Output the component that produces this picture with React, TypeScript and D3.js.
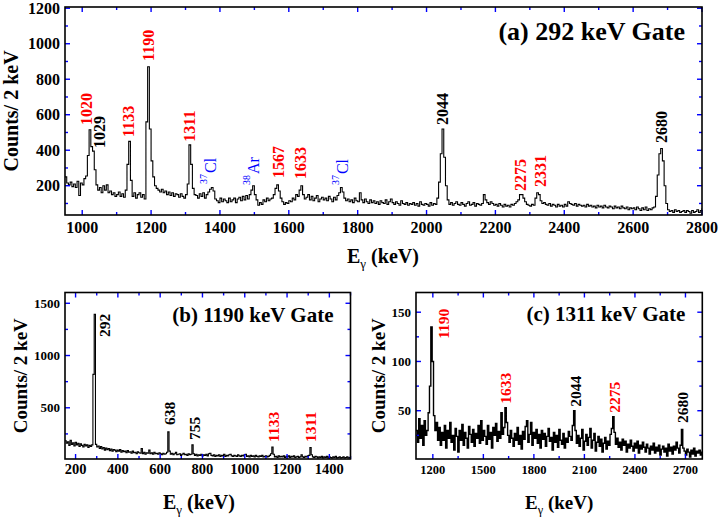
import * as d3 from 'd3';

const FONT = '"Liberation Serif", "Times New Roman", Times, serif';
const BLUE = '#0000ff';
const RED = '#ff0000';
const BLACK = '#000000';

// (a) spectrum gated on 292 keV, 5 keV bins starting at 950 keV
const gate292Start = 950;
const gate292Bin = 5;
const gate292Counts = [
  250, 215, 205, 220, 195, 210, 190, 225, 145, 215,
  205, 240, 255, 370, 515, 420, 395, 290, 205, 175,
  190, 160, 200, 175, 205, 160, 170, 150, 160, 140,
  150, 165, 140, 155, 135, 175, 320, 450, 230, 140,
  160, 130, 150, 160, 135, 150, 125, 560, 870, 520,
  340, 250, 200, 185, 175, 165, 180, 160, 170, 150,
  165, 145, 160, 140, 155, 150, 135, 155, 140, 130,
  150, 210, 430, 320, 185, 150, 145, 130, 155, 140,
  160, 130, 150, 165, 180, 190, 170, 125, 115, 105,
  130, 110, 125, 115, 105, 130, 110, 120, 130, 105,
  125, 135, 115, 140, 120, 145, 125, 150, 175, 200,
  150, 120, 90, 105, 95, 120, 110, 130, 115, 125,
  130, 150, 185, 205, 170, 130, 110, 95, 105, 100,
  115, 110, 130, 120, 150, 140, 175, 200, 150, 125,
  135, 150, 120, 140, 115, 130, 145, 110, 125, 135,
  120, 130, 115, 140, 125, 110, 135, 120, 145, 160,
  190, 165, 130, 115, 125, 110, 120, 105, 130, 115,
  110, 160, 120, 105, 125, 110, 100, 120, 105, 115,
  100, 110, 95, 115, 105, 100, 120, 95, 110, 125,
  105, 95, 110, 100, 90, 115, 100, 95, 105, 90,
  100, 95, 105, 90, 100, 85, 110, 95, 90, 100,
  95, 85, 105, 90, 100, 95, 130, 220, 380, 520,
  360, 200, 120, 95, 105, 90, 100, 110, 95, 90,
  105, 95, 85, 100, 110, 90, 95, 105, 85, 100,
  95, 90, 100, 150, 120, 105, 95, 110, 100, 90,
  95, 85, 100, 90, 80, 95, 85, 90, 80, 95,
  90, 100, 110, 120, 150, 150, 130, 110, 95, 90,
  85, 95, 90, 130, 160, 150, 115, 100, 105, 95,
  90, 100, 85, 95, 90, 80, 95, 85, 90, 80,
  95, 85, 110, 100, 95, 90, 100, 85, 95, 90,
  85, 90, 80, 95, 85, 90, 80, 85, 75, 90,
  80, 85, 75, 90, 80, 75, 85, 80, 70, 85,
  75, 80, 70, 85, 75, 70, 80, 65, 75, 70,
  75, 65, 80, 70, 60, 75, 65, 80, 60, 70,
  65, 75, 80, 140, 260, 380, 410, 340, 200, 100,
  65, 55, 60, 50, 65, 55, 60, 50, 55, 60,
  50, 60, 55, 45, 60, 50, 55, 65, 50, 60,
  70,
];

// (b) gated on 1190 keV, 6 keV bins starting at 150 keV
const gate1190Start = 150;
const gate1190Bin = 6;
const gate1190Counts = [
  185, 160, 175, 140, 190, 150, 165, 135, 170, 145,
  160, 130, 155, 140, 125, 150, 135, 145, 120, 140,
  130, 145, 820, 1395, 150, 125, 135, 110, 130, 105,
  120, 95, 115, 100, 110, 90, 105, 85, 100, 95,
  80, 95, 85, 100, 75, 90, 80, 85, 70, 90,
  75, 80, 65, 85, 70, 75, 60, 80, 70, 65,
  110, 60, 75, 55, 70, 65, 95, 60, 70, 55,
  75, 60, 65, 55, 70, 60, 50, 65, 55, 60,
  75, 270, 85, 55, 65, 50, 60, 75, 50, 55,
  60, 45, 55, 65, 50, 55, 45, 60, 50, 55,
  145, 60, 45, 55, 40, 50, 45, 55, 40, 50,
  45, 55, 40, 60, 65, 45, 40, 50, 35, 45,
  40, 50, 35, 45, 40, 55, 35, 45, 40, 50,
  55, 40, 35, 45, 40, 35, 50, 40, 35, 45,
  40, 50, 55, 35, 40, 30, 45, 35, 40, 30,
  45, 35, 30, 40, 35, 45, 30, 35, 40, 30,
  35, 45, 60, 125, 55, 30, 35, 25, 40, 30,
  35, 30, 40, 25, 35, 30, 40, 25, 35, 30,
  40, 25, 30, 35, 25, 30, 50, 30, 25, 35,
  30, 40, 45, 120, 50, 30, 25, 35, 30, 20,
  30, 25, 35, 20, 30, 25, 35, 20, 30, 25,
  20, 30, 25, 35, 20, 25, 30, 20, 25, 30,
  20, 25, 30, 20, 25,
];

// (c) gated on 1311 keV, 8 keV bins starting at 1100 keV
const gate1311Start = 1100;
const gate1311Bin = 8;
const gate1311Counts = [
  30, 18, 42, 22, 35, 15, 40, 25, 30, 48,
  75, 135, 100, 45, 30, 38, 20, 33, 15, 28,
  20, 35, 12, 30, 22, 38, 18, 25, 10, 32,
  24, 8, 30, 20, 36, 15, 28, 22, 12, 34,
  26, 18, 31, 14, 27, 22, 35, 17, 40, 20,
  30, 24, 16, 35, 21, 28, 12, 33, 25, 37,
  19, 29, 22, 48, 26, 33, 53, 38, 25, 18,
  30, 22, 14, 27, 20, 33, 16, 25, 11, 29,
  21, 34, 40, 18, 26, 38, 15, 28, 22, 31,
  17, 26, 12, 30, 21, 27, 14, 24, 32, 19,
  23, 10, 28, 18, 25, 13, 31, 20, 16, 27,
  12, 22, 18, 29, 24, 20, 35, 50, 30, 17,
  25, 14, 22, 31, 10, 19, 26, 15, 23, 32,
  12, 20, 27, 9, 18, 24, 14, 21, 8, 17,
  23, 11, 19, 15, 26, 32, 44, 28, 16, 22,
  13, 18, 10, 21, 15, 19, 8, 16, 12, 20,
  14, 9, 17, 12, 19, 7, 15, 11, 18, 13,
  8, 16, 12, 6, 14, 10, 17, 7, 13, 9,
  15, 5, 11, 14, 8, 12, 4, 16, 9, 13,
  6, 14, 10, 18, 12, 7, 15, 31, 12, 9,
  5, 11, 8, 3, 10, 6, 12, 4, 9, 7,
  10, 5, 8,
];

// labelled ticks
const aXTicks = [1000, 1200, 1400, 1600, 1800, 2000, 2200, 2400, 2600, 2800];
const aYTicks = [200, 400, 600, 800, 1000, 1200];
const bXTicks = [200, 400, 600, 800, 1000, 1200, 1400];
const bYTicks = [500, 1000, 1500];
const cXTicks = [1200, 1500, 1800, 2100, 2400, 2700];
const cYTicks = [50, 100, 150];

// peak labels: text, colour, anchor energy (keV) and count level of the label foot
type Peak = { text: string; iso?: string; color: string; e: number; c: number };
const aPeaks: Peak[] = [
  { text: '1020', color: RED, e: 1028, c: 542 },
  { text: '1029', color: BLACK, e: 1066, c: 412 },
  { text: '1133', color: RED, e: 1150, c: 475 },
  { text: '1190', color: RED, e: 1208, c: 903 },
  { text: '1311', color: RED, e: 1327, c: 448 },
  { text: 'Cl', iso: '37', color: BLUE, e: 1388, c: 210 },
  { text: 'Ar', iso: '38', color: BLUE, e: 1513, c: 204 },
  { text: '1567', color: RED, e: 1586, c: 244 },
  { text: '1633', color: RED, e: 1650, c: 238 },
  { text: 'Cl', iso: '37', color: BLUE, e: 1772, c: 204 },
  { text: '2044', color: BLACK, e: 2062, c: 542 },
  { text: '2275', color: RED, e: 2290, c: 170 },
  { text: '2331', color: RED, e: 2348, c: 193 },
  { text: '2680', color: BLACK, e: 2697, c: 441 },
];
const bPeaks: Peak[] = [
  { text: '292', color: BLACK, e: 363, c: 1177 },
  { text: '638', color: BLACK, e: 670, c: 335 },
  { text: '755', color: BLACK, e: 788, c: 192 },
  { text: '1133', color: RED, e: 1162, c: 173 },
  { text: '1311', color: RED, e: 1337, c: 173 },
];
const cPeaks: Peak[] = [
  { text: '1190', color: RED, e: 1296, c: 123 },
  { text: '1633', color: RED, e: 1667, c: 57 },
  { text: '2044', color: BLACK, e: 2077, c: 54 },
  { text: '2275', color: RED, e: 2314, c: 48 },
  { text: '2680', color: BLACK, e: 2715, c: 37.5 },
];

interface Box { left: number; top: number; right: number; bottom: number }

interface PanelProps {
  id: string;
  box: Box;
  xDomain: [number, number];
  yDomain: [number, number];
  start: number;
  bin: number;
  counts: number[];
  lineWidth: number;
  xTicks: number[];
  xMinor: number;
  yTicks: number[];
  yMinor: number;
  xFont: number;
  yFont: number;
  xLabelDy: number;
  peaks: Peak[];
  peakFont: number;
  title: string;
  titleFont: number;
  titleY: number;
  yTitleX: number;
  yTitleFont: number;
  xTitleX: number;
  xTitleY: number;
  xTitleFont: number;
}

function Panel(p: PanelProps) {
  const { box } = p;
  const x = d3.scaleLinear().domain(p.xDomain).range([box.left, box.right]);
  const y = d3.scaleLinear().domain(p.yDomain).range([box.bottom, box.top]);

  const pts: [number, number][] = p.counts.map((c, i) => [p.start + i * p.bin, c]);
  pts.push([p.start + p.counts.length * p.bin, p.counts[p.counts.length - 1]]);
  const line = d3
    .line<[number, number]>()
    .x((d) => x(d[0]))
    .y((d) => y(d[1]))
    .curve(d3.curveStepAfter);

  const xAll = d3.range(Math.ceil(p.xDomain[0] / p.xMinor) * p.xMinor, p.xDomain[1] + 0.01, p.xMinor);
  const yAll = d3.range(Math.ceil(p.yDomain[0] / p.yMinor) * p.yMinor, p.yDomain[1] + 0.01, p.yMinor);
  const major = 5;
  const minor = 3;

  return (
    <g>
      <defs>
        <clipPath id={p.id}>
          <rect x={box.left} y={box.top} width={box.right - box.left} height={box.bottom - box.top} />
        </clipPath>
      </defs>
      <path
        d={line(pts) ?? ''}
        fill="none"
        stroke="#000"
        strokeWidth={p.lineWidth}
        clipPath={`url(#${p.id})`}
      />

      {/* ticks on all four sides, inward */}
      <g stroke={BLUE} strokeWidth={1.4}>
        {xAll.map((v) => {
          const len = p.xTicks.includes(v) ? major : minor;
          const xv = x(v);
          return (
            <g key={`x${v}`}>
              <line x1={xv} x2={xv} y1={box.bottom} y2={box.bottom - len} />
              <line x1={xv} x2={xv} y1={box.top} y2={box.top + len} />
            </g>
          );
        })}
        {yAll.map((v) => {
          const len = p.yTicks.includes(v) ? major : minor;
          const yv = y(v);
          return (
            <g key={`y${v}`}>
              <line x1={box.left} x2={box.left + len} y1={yv} y2={yv} />
              <line x1={box.right} x2={box.right - len} y1={yv} y2={yv} />
            </g>
          );
        })}
      </g>

      <rect
        x={box.left}
        y={box.top}
        width={box.right - box.left}
        height={box.bottom - box.top}
        fill="none"
        stroke="#000"
        strokeWidth={1.6}
      />

      {/* tick labels */}
      <g fontFamily={FONT} fontWeight="bold" fill="#000">
        {p.xTicks.map((v) => (
          <text key={`xl${v}`} x={x(v)} y={box.bottom + p.xLabelDy} fontSize={p.xFont} textAnchor="middle">
            {v}
          </text>
        ))}
        {p.yTicks.map((v) => (
          <text
            key={`yl${v}`}
            x={box.left - 5}
            y={y(v)}
            dy="0.35em"
            fontSize={p.yFont}
            textAnchor="end"
          >
            {v}
          </text>
        ))}
      </g>

      {/* peak labels, reading upward */}
      <g fontFamily={FONT}>
        {p.peaks.map((pk, i) => {
          const px = x(pk.e);
          const py = y(pk.c);
          return (
            <text
              key={`pk${i}`}
              transform={`translate(${px},${py}) rotate(-90)`}
              fill={pk.color}
              fontSize={p.peakFont}
              fontWeight={pk.iso ? 'normal' : 'bold'}
            >
              {pk.iso ? (
                <>
                  <tspan fontSize={p.peakFont * 0.62} dy={-9}>
                    {pk.iso}
                  </tspan>
                  <tspan dy={9} dx={1}>
                    {pk.text}
                  </tspan>
                </>
              ) : (
                pk.text
              )}
            </text>
          );
        })}
      </g>

      {/* panel title */}
      <text
        x={box.right - 17}
        y={p.titleY}
        fontFamily={FONT}
        fontWeight="bold"
        fontSize={p.titleFont}
        textAnchor="end"
      >
        {p.title}
      </text>

      {/* axis titles */}
      <text
        transform={`translate(${p.yTitleX},${(box.top + box.bottom) / 2}) rotate(-90)`}
        fontFamily={FONT}
        fontWeight="bold"
        fontSize={p.yTitleFont}
        textAnchor="middle"
      >
        Counts/ 2 keV
      </text>
      <text x={p.xTitleX} y={p.xTitleY} fontFamily={FONT} fontWeight="bold" fontSize={p.xTitleFont}>
        E
        <tspan fontSize={p.xTitleFont * 0.65} fontWeight="normal" dy={5}>
          γ
        </tspan>
        <tspan dy={-5}> (keV)</tspan>
      </text>
    </g>
  );
}

export default function App() {
  return (
    <svg
      width={720}
      height={521}
      viewBox="0 0 720 521"
      style={{ position: 'absolute', left: 0, top: 0, background: '#fff' }}
    >
      <rect width={720} height={521} fill="#fff" />
      <Panel
        id="clipA"
        box={{ left: 65, top: 7, right: 702, bottom: 215 }}
        xDomain={[950, 2800]}
        yDomain={[35, 1207]}
        start={gate292Start}
        bin={gate292Bin}
        counts={gate292Counts}
        lineWidth={1.1}
        xTicks={aXTicks}
        xMinor={100}
        yTicks={aYTicks}
        yMinor={100}
        xFont={16}
        yFont={16}
        xLabelDy={18}
        peaks={aPeaks}
        peakFont={16}
        title="(a) 292 keV Gate"
        titleFont={26}
        titleY={40}
        yTitleX={18}
        yTitleFont={20}
        xTitleX={347}
        xTitleY={263}
        xTitleFont={20}
      />
      <Panel
        id="clipB"
        box={{ left: 65, top: 292.5, right: 350.5, bottom: 459 }}
        xDomain={[150, 1500]}
        yDomain={[10, 1603]}
        start={gate1190Start}
        bin={gate1190Bin}
        counts={gate1190Counts}
        lineWidth={1.1}
        xTicks={bXTicks}
        xMinor={100}
        yTicks={bYTicks}
        yMinor={250}
        xFont={14.5}
        yFont={13}
        xLabelDy={14.5}
        peaks={bPeaks}
        peakFont={15.5}
        title="(b) 1190 keV Gate"
        titleFont={21}
        titleY={321.5}
        yTitleX={26.5}
        yTitleFont={19}
        xTitleX={163}
        xTitleY={509}
        xTitleFont={20}
      />
      <Panel
        id="clipC"
        box={{ left: 416, top: 292.5, right: 702.3, bottom: 459 }}
        xDomain={[1100, 2800]}
        yDomain={[1, 170]}
        start={gate1311Start}
        bin={gate1311Bin}
        counts={gate1311Counts}
        lineWidth={1.4}
        xTicks={cXTicks}
        xMinor={150}
        yTicks={cYTicks}
        yMinor={25}
        xFont={12.5}
        yFont={13}
        xLabelDy={14.5}
        peaks={cPeaks}
        peakFont={15.5}
        title="(c) 1311 keV Gate"
        titleFont={21}
        titleY={320.5}
        yTitleX={385}
        yTitleFont={19}
        xTitleX={525}
        xTitleY={509}
        xTitleFont={19}
      />
    </svg>
  );
}
